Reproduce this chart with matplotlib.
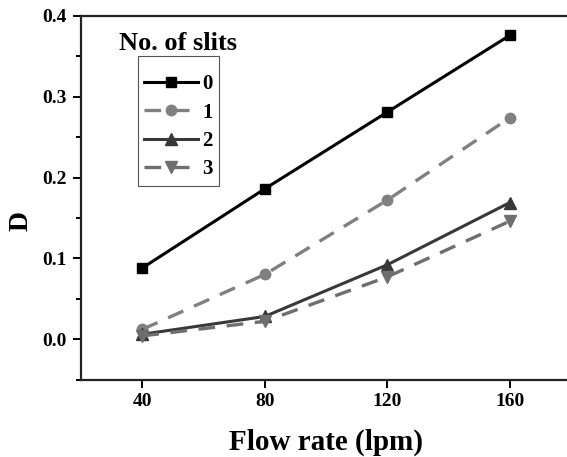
import matplotlib
matplotlib.use("Agg")
import matplotlib.pyplot as plt

flow_rate = [40, 80, 120, 160]
slits_0 = [0.088, 0.186, 0.281, 0.376]
slits_1 = [0.012, 0.080, 0.172, 0.274]
slits_2 = [0.006, 0.028, 0.092, 0.169]
slits_3 = [0.004, 0.022, 0.077, 0.146]
labels = ["0", "1", "2", "3"]

plt.rcParams["font.family"] = "Liberation Serif"
plt.rcParams["font.weight"] = "bold"

fig = plt.figure(figsize=(5.67, 4.57), dpi=100)
W, H = 567, 457
ax = fig.add_axes([81 / W, 1 - 379.5 / H, (571 - 81) / W, (379.5 - 16) / H])

ax.plot(flow_rate, slits_0, color="black", lw=2.2, marker="s", ms=7.5, label=labels[0])
ax.plot(flow_rate, slits_1, color="#808080", lw=2.4, ls=(0, (5, 3.5)), marker="o", ms=7.5, label=labels[1])
ax.plot(flow_rate, slits_2, color="#383838", lw=2.2, marker="^", ms=8.5, label=labels[2])
ax.plot(flow_rate, slits_3, color="#6e6e6e", lw=2.4, ls=(0, (5, 3.5)), marker="v", ms=8.5, label=labels[3])

ax.set_xlim(20, 180)
ax.set_ylim(-0.05, 0.4)
ax.set_xticks(flow_rate)
ax.set_yticks([0.0, 0.1, 0.2, 0.3, 0.4])
ax.set_yticks([-0.05, 0.05, 0.15, 0.25, 0.35], minor=True)
ax.yaxis.set_major_formatter(matplotlib.ticker.FormatStrFormatter("%.1f"))
ax.tick_params(axis="both", which="major", direction="out", labelsize=14, length=6, width=1.4, pad=4)
ax.tick_params(axis="y", which="minor", direction="out", length=3.5, width=1.4)
for s in ax.spines.values():
    s.set_linewidth(1.6)
    s.set_color("#222222")

ax.set_xlabel("Flow rate (lpm)", fontsize=21, fontweight="bold", labelpad=13)
ax.set_ylabel("D", fontsize=20, fontweight="bold")
ax.yaxis.set_label_coords((34 - 81) / 490, (379.5 - 221) / 363.5)

# legend frame is padded outward so the handles sit inset from the box
leg = ax.legend(loc="upper left", bbox_to_anchor=((144 - 81) / 490, 1 - (62 - 16) / 363.5),
                fontsize=15, handlelength=2.6, handletextpad=0.2, labelspacing=0.4,
                borderpad=0, borderaxespad=0, fancybox=False, edgecolor="#555555", framealpha=1,
                title=" ", title_fontsize=2)
leg.get_frame().set_linewidth(0.8)
leg.get_frame().set_boxstyle("square", pad=0.3)
ax.text((178 - 81) / 490, 1 - (43 - 16) / 363.5, "No. of slits", transform=ax.transAxes,
        ha="center", va="center", fontsize=19, fontweight="bold")

fig.savefig("out.png", dpi=100)
